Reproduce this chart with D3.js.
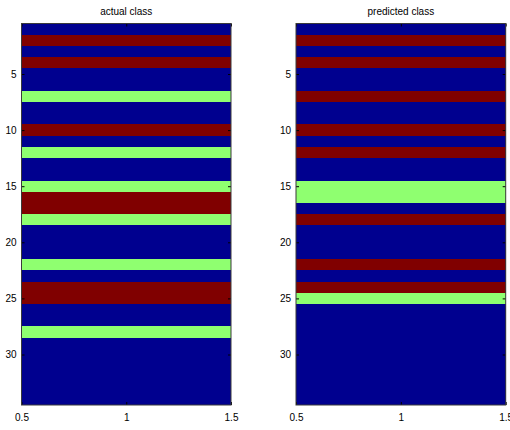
<!DOCTYPE html>
<html>
<head>
<meta charset="utf-8">
<script src="https://cdn.jsdelivr.net/npm/d3@7"></script>
<style>
  body { margin: 0; background: #fff; }
  svg { display: block; font-family: "Liberation Sans", Arial, sans-serif; }
  .tick text { font-size: 10px; fill: #000; }
</style>
</head>
<body>
<div id="chart"></div>
<script>
// class per row (1 = blue, 2 = green, 3 = red)
const actualClass = [1, 3, 1, 3, 1, 1, 2, 1, 1, 3, 1, 2, 1, 1, 2, 3, 3, 2, 1, 1, 1, 2, 1, 3, 3, 1, 1, 2, 1, 1, 1, 1, 1, 1];
const predictedClass = [1, 3, 1, 3, 1, 1, 3, 1, 1, 3, 1, 3, 1, 1, 2, 2, 1, 3, 1, 1, 1, 3, 1, 3, 2, 1, 1, 1, 1, 1, 1, 1, 1, 1];
const titles = ['actual class', 'predicted class'];
const yTicks = [5, 10, 15, 20, 25, 30];
const xTicks = [0.5, 1, 1.5];

const width = 510;
const height = 430;

const color = d3.scaleOrdinal()
  .domain([1, 2, 3])
  .range(['#00008f', '#8fff70', '#800000']);

const svg = d3.select('#chart')
  .append('svg')
  .attr('width', width)
  .attr('height', height);

const panels = [
  { left: 21.5, right: 231, values: actualClass, title: titles[0] },
  { left: 296, right: 505.7, values: predictedClass, title: titles[1] },
];
const plotTop = 23.5;
const plotBottom = 405;
const fmt = d3.format('~g');

panels.forEach((p) => {
  const x = d3.scaleLinear().domain([0.5, 1.5]).range([p.left, p.right]);
  const y = d3.scaleLinear().domain([0.5, p.values.length + 0.5]).range([plotTop, plotBottom]);

  const g = svg.append('g');

  // image rows
  g.selectAll('rect')
    .data(p.values)
    .join('rect')
    .attr('x', x(0.5))
    .attr('width', x(1.5) - x(0.5))
    .attr('y', (d, i) => y(i + 0.5))
    .attr('height', (d, i) => y(i + 1.5) - y(i + 0.5))
    .attr('fill', (d) => color(d))
    .attr('shape-rendering', 'crispEdges');

  // left axis with labels, ticks inside
  const yAxisL = g.append('g')
    .attr('transform', `translate(${p.left},0)`)
    .call(d3.axisLeft(y).tickValues(yTicks).tickSizeInner(-3).tickSizeOuter(0).tickPadding(5).tickFormat(fmt));
  // right axis, ticks only
  const yAxisR = g.append('g')
    .attr('transform', `translate(${p.right},0)`)
    .call(d3.axisRight(y).tickValues(yTicks).tickSizeInner(-3).tickSizeOuter(0).tickFormat(''));
  // bottom axis with labels
  const xAxisB = g.append('g')
    .attr('transform', `translate(0,${plotBottom})`)
    .call(d3.axisBottom(x).tickValues(xTicks).tickSizeInner(-3).tickSizeOuter(0).tickPadding(9).tickFormat(fmt));
  // top axis, ticks only
  const xAxisT = g.append('g')
    .attr('transform', `translate(0,${plotTop})`)
    .call(d3.axisTop(x).tickValues(xTicks).tickSizeInner(-3).tickSizeOuter(0).tickFormat(''));

  [yAxisL, yAxisR, xAxisB, xAxisT].forEach((a) => {
    a.select('.domain').remove();
    a.selectAll('.tick line').attr('stroke', '#000');
  });

  // box
  g.append('rect')
    .attr('x', p.left)
    .attr('y', plotTop)
    .attr('width', p.right - p.left)
    .attr('height', plotBottom - plotTop)
    .attr('fill', 'none')
    .attr('stroke', '#3a3a3a')
    .attr('stroke-width', 1);

  g.append('text')
    .attr('x', (p.left + p.right) / 2)
    .attr('y', 15)
    .attr('text-anchor', 'middle')
    .style('font-size', '10px')
    .text(p.title);
});
</script>
</body>
</html>
